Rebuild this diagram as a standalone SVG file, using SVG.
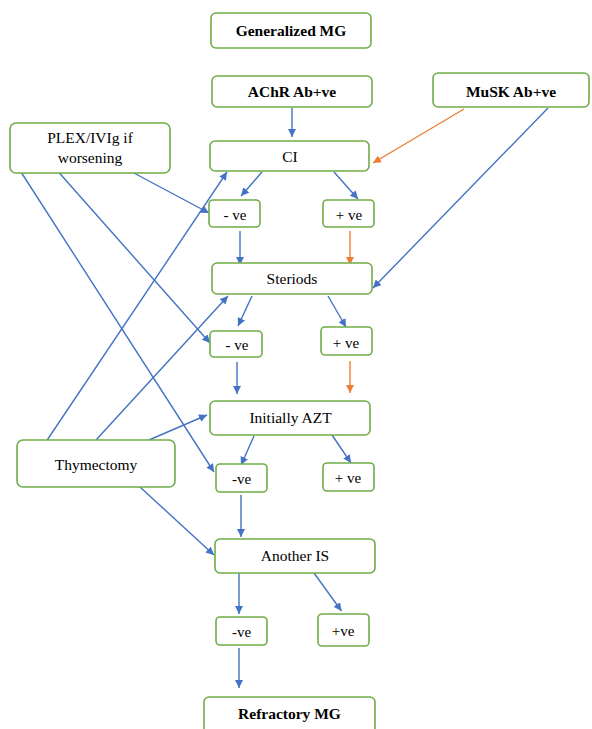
<svg xmlns="http://www.w3.org/2000/svg" width="592" height="729" viewBox="0 0 592 729">
<defs>
<style>
.box{fill:#fff;stroke:#70ad47;stroke-width:1.6}
.t{font-family:'Liberation Serif','DejaVu Serif',serif;font-size:15.5px;fill:#000;text-anchor:middle}
.b{font-weight:bold}
.s{font-size:15px}
.bl{stroke:#4472c4;stroke-width:1.4;fill:none;marker-end:url(#ab)}
.or{stroke:#ed7d31;stroke-width:1.4;fill:none;marker-end:url(#ao)}
</style>
<marker id="ab" viewBox="0 0 10 10" refX="10" refY="5" markerWidth="8" markerHeight="8" markerUnits="userSpaceOnUse" orient="auto"><path d="M0,0 L10,5 L0,10 z" fill="#4472c4"/></marker>
<marker id="ao" viewBox="0 0 10 10" refX="10" refY="5" markerWidth="8" markerHeight="8" markerUnits="userSpaceOnUse" orient="auto"><path d="M0,0 L10,5 L0,10 z" fill="#ed7d31"/></marker>
</defs>
<rect width="592" height="729" fill="#fff"/>
<g id="connectors">
<line class="bl" x1="292" y1="108" x2="292" y2="137"/>
<line class="or" x1="464" y1="109" x2="373" y2="163"/>
<line class="bl" x1="548" y1="108" x2="373" y2="288"/>
<line class="bl" x1="262" y1="172" x2="241" y2="196"/>
<line class="bl" x1="334" y1="172" x2="358" y2="199"/>
<line class="bl" x1="132" y1="172" x2="209" y2="213"/>
<line class="bl" x1="58.5" y1="172" x2="210" y2="343"/>
<line class="bl" x1="21" y1="172" x2="214" y2="472"/>
<line class="bl" x1="240" y1="231" x2="240" y2="265"/>
<line class="or" x1="350" y1="231" x2="350" y2="265"/>
<line class="bl" x1="252" y1="296" x2="238" y2="326"/>
<line class="bl" x1="328" y1="296" x2="346" y2="327"/>
<line class="bl" x1="44.5" y1="444" x2="227" y2="172"/>
<line class="bl" x1="96" y1="440" x2="228" y2="296"/>
<line class="bl" x1="149" y1="440" x2="207" y2="415"/>
<line class="bl" x1="140" y1="487" x2="214" y2="555"/>
<line class="bl" x1="237" y1="362" x2="237" y2="394"/>
<line class="or" x1="350" y1="361" x2="350" y2="393"/>
<line class="bl" x1="254" y1="436" x2="241" y2="465"/>
<line class="bl" x1="330" y1="432" x2="351" y2="463"/>
<line class="bl" x1="241" y1="495" x2="241" y2="537"/>
<line class="bl" x1="239" y1="573" x2="239" y2="614"/>
<line class="bl" x1="314" y1="573" x2="341.5" y2="611"/>
<line class="bl" x1="239" y1="648" x2="239" y2="688"/>
</g>
<g id="generalized-mg"><rect class="box" x="211" y="13" width="160" height="35" rx="5"/><text class="t b" font-family="Liberation Serif" x="291" y="36">Generalized MG</text></g>
<g id="achr"><rect class="box" x="212" y="76" width="160" height="31" rx="5"/><text class="t b" x="292" y="97">AChR Ab+ve</text></g>
<g id="musk"><rect class="box" x="433" y="73" width="156" height="34" rx="5"/><text class="t b" x="511" y="97">MuSK Ab+ve</text></g>
<g id="plex"><rect class="box" x="10" y="123" width="160" height="50" rx="6"/><text class="t" x="90" y="143">PLEX/IVIg if</text><text class="t" x="90" y="163">worsening</text></g>
<g id="ci"><rect class="box" x="210" y="141" width="159" height="30" rx="5"/><text class="t" x="290" y="162">CI</text></g>
<g id="neg1"><rect class="box" x="209" y="200" width="51" height="27" rx="4"/><text class="t s" x="235" y="220">- ve</text></g>
<g id="pos1"><rect class="box" x="323" y="200" width="51" height="27" rx="4"/><text class="t s" x="349" y="220">+ ve</text></g>
<g id="steriods"><rect class="box" x="212" y="263" width="160" height="31" rx="5"/><text class="t" x="292" y="284">Steriods</text></g>
<g id="neg2"><rect class="box" x="210" y="331" width="52" height="26" rx="4"/><text class="t s" x="237" y="350">- ve</text></g>
<g id="pos2"><rect class="box" x="321" y="327" width="51" height="28" rx="4"/><text class="t s" x="346" y="348">+ ve</text></g>
<g id="azt"><rect class="box" x="210" y="401" width="160" height="34" rx="5"/><text class="t" x="290.5" y="423">Initially AZT</text></g>
<g id="thymectomy"><rect class="box" x="17" y="440" width="158" height="47" rx="6"/><text class="t" x="96" y="470">Thymectomy</text></g>
<g id="neg3"><rect class="box" x="216" y="464" width="51" height="28" rx="4"/><text class="t s" x="241.5" y="484">-ve</text></g>
<g id="pos3"><rect class="box" x="323" y="463" width="51" height="28" rx="4"/><text class="t s" x="348" y="483">+ ve</text></g>
<g id="another-is"><rect class="box" x="215" y="539" width="160" height="34" rx="5"/><text class="t" x="295" y="561">Another IS</text></g>
<g id="neg4"><rect class="box" x="216" y="617" width="51" height="28" rx="4"/><text class="t s" x="241.5" y="637">-ve</text></g>
<g id="pos4"><rect class="box" x="318" y="614" width="51" height="32" rx="4"/><text class="t s" x="343" y="636">+ve</text></g>
<g id="refractory"><rect class="box" x="204" y="697" width="171" height="40" rx="5"/><text class="t b" x="289.5" y="719">Refractory MG</text></g>
</svg>
